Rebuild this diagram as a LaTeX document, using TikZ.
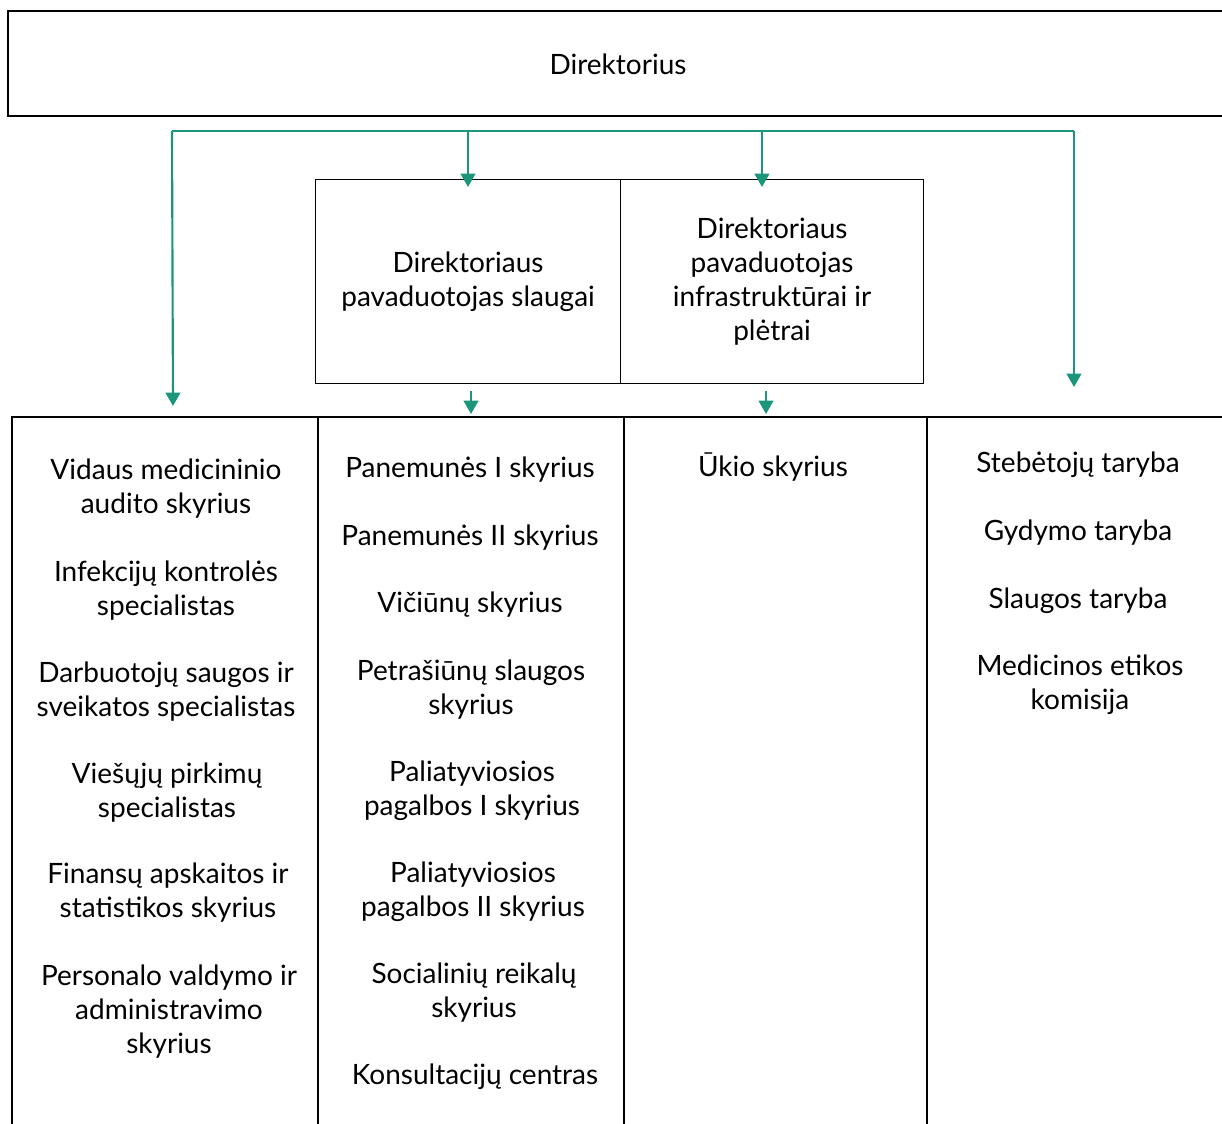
\documentclass[tikz,border=0pt]{standalone}
\usepackage{fontspec}
\setmainfont{Lato}
\usetikzlibrary{arrows.meta}
\definecolor{tealline}{RGB}{28,150,122}
\tikzset{
  box/.style={draw=black, line width=0.9pt, rectangle, inner sep=0pt, anchor=north west},
  rule/.style={draw=black, line width=0.9pt},
  txt/.style={align=center, inner sep=0pt, font=\fontsize{21}{25.5}\selectfont},
  bracket/.style={draw=tealline, line width=1.6pt},
  arr/.style={draw=tealline, line width=1.6pt, -{Triangle[width=11pt,length=10pt]}, fill=tealline},
}
\begin{document}
\begin{tikzpicture}[x=0.75pt, y=-0.75pt]
\useasboundingbox (0,0) rectangle (1222,1124);
% top box (open to the right)
\draw[rule] (1230,11) -- (8,11) -- (8,116) -- (1230,116);
\node[txt] (dir) at (618,64) {Direktorius};
% green bracket
\coordinate (bl) at (172,131);
\coordinate (br) at (1074,131);
\coordinate (b1) at (468,131);
\coordinate (b2) at (762,131);
\draw[bracket] (bl) -- (br);
% middle boxes
\node[box, minimum width=228.75pt, minimum height=153pt] (slaug) at (315,179) {};
\node[box, minimum width=227.25pt, minimum height=153pt] (infra) at (620,179) {};
\node[txt] (slaugt) at (slaug.center) {Direktoriaus\\pavaduotojas slaugai};
\node[txt] (infrat) at (infra.center) {Direktoriaus\\pavaduotojas\\infrastruktūrai ir\\plėtrai};
% table
\draw[rule] (12,1130) -- (12,417) -- (1230,417);
\draw[rule] (318,417) -- (318,1130);
\draw[rule] (624,417) -- (624,1130);
\draw[rule] (927,417) -- (927,1130);
\coordinate (t1) at (173,406);
\coordinate (t2) at (471,414);
\coordinate (t3) at (766,414);
\coordinate (t4) at (1074,387);
% arrows
\draw[arr] (bl) -- (t1);
\draw[arr] (br) -- (t4);
\draw[arr] (b1) -- ([yshift=-6pt]slaug.north -| b1);
\draw[arr] (b2) -- ([yshift=-6pt]infra.north -| b2);
\draw[arr] ([yshift=-5pt]slaug.south -| t2) -- (t2);
\draw[arr] ([yshift=-5pt]infra.south -| t3) -- (t3);
% column 1
\node[txt] (a1) at (166,489) {Vidaus medicininio\\audito skyrius};
\node[txt] (a2) at (166,591) {Infekcijų kontrolės\\specialistas};
\node[txt] (a3) at (166,692) {Darbuotojų saugos ir\\sveikatos specialistas};
\node[txt] (a4) at (167,793) {Viešųjų pirkimų\\specialistas};
\node[txt] (a5) at (168,893) {Finansų apskaitos ir\\statistikos skyrius};
\node[txt] (a6) at (169,1012) {Personalo valdymo ir\\administravimo\\skyrius};
% column 2
\node[txt] (p1) at (470,470) {Panemunės I skyrius};
\node[txt] (p2) at (470,538) {Panemunės II skyrius};
\node[txt] (p3) at (470,605) {Vičiūnų skyrius};
\node[txt] (p4) at (471,690) {Petrašiūnų slaugos\\skyrius};
\node[txt] (p5) at (472,791) {Paliatyviosios\\pagalbos I skyrius};
\node[txt] (p6) at (473,892) {Paliatyviosios\\pagalbos II skyrius};
\node[txt] (p7) at (474,993) {Socialinių reikalų\\skyrius};
\node[txt] (p8) at (475,1077) {Konsultacijų centras};
% column 3
\node[txt] (u1) at (773,467) {Ūkio skyrius};
% column 4
\node[txt] (s1) at (1078,465) {Stebėtojų taryba};
\node[txt] (s2) at (1078,533) {Gydymo taryba};
\node[txt] (s3) at (1078,601) {Slaugos taryba};
\node[txt] (s4) at (1080,685) {Medicinos etikos\\komisija};
\end{tikzpicture}
\end{document}
